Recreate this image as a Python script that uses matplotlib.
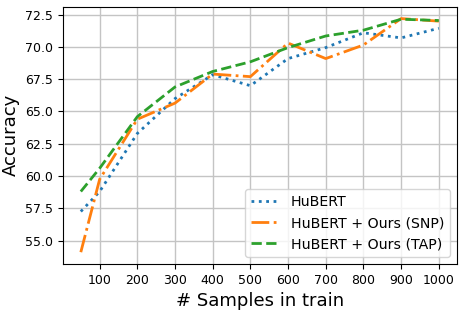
import numpy as np
from matplotlib import pyplot as plt

# データ
samples = [50, 100, 200, 300, 400, 500, 600, 700, 800, 900, 1000]
hubert = [57.25, 58.8, 63.3, 66.0, 67.85, 67.0, 69.1, 69.95, 71.1, 70.7, 71.45]
hubert_snp = [54.1, 59.75, 64.4, 65.65, 67.9, 67.7, 70.3, 69.1, 70.15, 72.2, 72.0]
hubert_tap = [58.8, 60.6, 64.6, 66.9, 68.1, 68.85, 69.95, 70.85, 71.3, 72.15, 72.05]

fig = plt.figure(figsize=(4.66, 3.13), dpi=100)
ax = fig.add_subplot(111)
ax.plot(samples, hubert, ":", lw=2, c="tab:blue", label="HuBERT")
ax.plot(samples, hubert_snp, "-.", lw=2, c="tab:orange", label="HuBERT + Ours (SNP)")
ax.plot(samples, hubert_tap, "--", lw=2, c="tab:green", label="HuBERT + Ours (TAP)")
ax.set_xticks(samples[1:])
ax.set_xlabel("# Samples in train", fontsize=13)
ax.set_ylabel("Accuracy", fontsize=13)
ax.tick_params(labelsize=9)
ax.grid(lw=1, color="#c4c4c4")
ax.legend(loc="lower right", fontsize=10.2)
fig.subplots_adjust(left=0.135, right=0.98, top=0.978, bottom=0.157)
fig.savefig("out.png")
